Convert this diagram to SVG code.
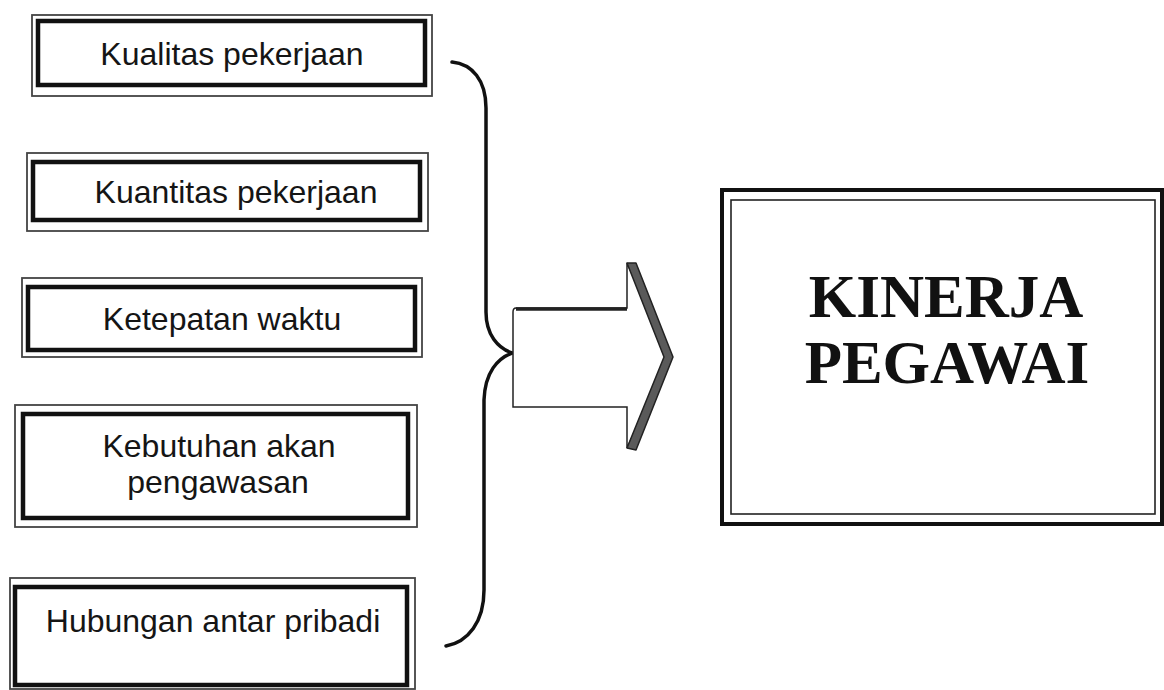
<svg xmlns="http://www.w3.org/2000/svg" width="1164" height="690" viewBox="0 0 1164 690">
<style>
.outer{fill:none;stroke:#444;stroke-width:1.8}
.inner{fill:none;stroke:#111;stroke-width:4.5}
.lbl{font-family:"Liberation Sans",Arial,sans-serif;font-size:32px;fill:#151515;text-anchor:middle}
.big{font-family:"Liberation Serif","Times New Roman",serif;font-size:61px;font-weight:bold;fill:#111;text-anchor:middle}
.brace{fill:none;stroke:#111;stroke-width:3.5;stroke-linecap:round}
</style>
<rect width="1164" height="690" fill="#fff"/>
<g id="n1">
<rect class="outer" x="32" y="15" width="400" height="81"/>
<rect class="inner" x="38" y="21" width="387" height="64"/>
<text class="lbl" x="232" y="65">Kualitas pekerjaan</text>
</g>
<g id="n2">
<rect class="outer" x="27" y="153" width="401" height="78"/>
<rect class="inner" x="33" y="162" width="387" height="58"/>
<text class="lbl" x="236" y="203">Kuantitas pekerjaan</text>
</g>
<g id="n3">
<rect class="outer" x="22" y="278" width="400" height="79"/>
<rect class="inner" x="28" y="287" width="387" height="63"/>
<text class="lbl" x="222" y="330">Ketepatan waktu</text>
</g>
<g id="n4">
<rect class="outer" x="15" y="405" width="402" height="122"/>
<rect class="inner" x="23" y="414" width="385" height="104"/>
<text class="lbl" x="219" y="457">Kebutuhan akan</text>
<text class="lbl" x="218" y="493">pengawasan</text>
</g>
<g id="n5">
<rect class="outer" x="10" y="578" width="405" height="111"/>
<rect class="inner" x="15" y="587" width="392" height="98"/>
<text class="lbl" x="213" y="632">Hubungan antar pribadi</text>
</g>
<g id="n6">
<rect fill="none" stroke="#111" stroke-width="4" x="722" y="190" width="440" height="334"/>
<rect fill="none" stroke="#222" stroke-width="1.6" x="731" y="200" width="424" height="314"/>
<text class="big" x="946" y="317">KINERJA</text>
<text class="big" x="947" y="383">PEGAWAI</text>
</g>
<g id="connectors">
<path class="brace" d="M452,62 C472,64 486,80 486,108 L486,312 C486,335 498,348 512,353 C498,358 485,372 484,400 L484,590 C484,622 468,642 446,646"/>
<g id="arrow">
<path d="M627,308 L516,308 Q513,308 513,312 L513,407 L627,407 L627,448 L670,357 L627,263 Z" fill="#fff" stroke="#222" stroke-width="1.5"/>
<path d="M516,309 L627,309" stroke="#222" stroke-width="3.5"/>
<polygon points="627,263 636,263 673,357 636,450 627,448 664,357" fill="#5a5a5a" stroke="#222" stroke-width="1.5" stroke-linejoin="round"/>
</g>
</g>
</svg>
